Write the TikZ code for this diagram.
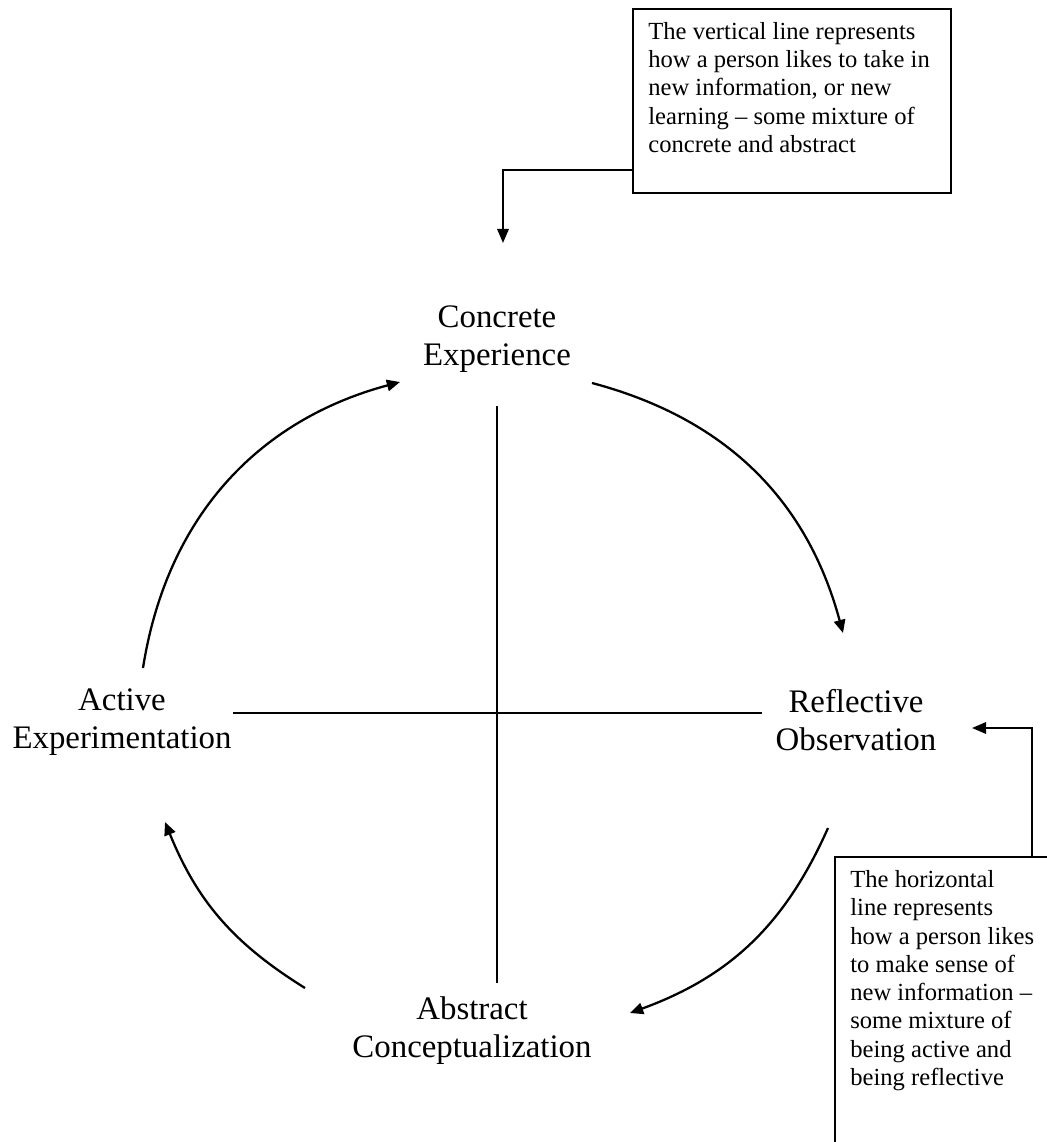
\documentclass[tikz,border=0pt]{standalone}
\usepackage{fontspec}
\setmainfont{Liberation Serif}
\usetikzlibrary{arrows.meta, positioning, calc}

\begin{document}
\begin{tikzpicture}[x=0.02cm, y=-0.02cm,
        stage/.style={align=center, inner sep=0pt, font=\fontsize{18.7pt}{21.6pt}\selectfont},
        notebox/.style={draw, line width=1.2pt, anchor=north west, inner sep=0pt},
        notetext/.style={align=left, anchor=north west, inner sep=0pt, font=\fontsize{14pt}{16.1pt}\selectfont},
        cyclearrow/.style={line width=1.3pt, -{Triangle[length=7.5pt, width=6.5pt]}},
        axisline/.style={line width=1.3pt},
        pointer/.style={line width=1.2pt, -{Triangle[length=8pt, width=6.5pt]}}]
            \fill[white] (0,0) rectangle (1047,1142);
            \clip (0,0) rectangle (1047,1142);

            % Le quattro fasi
            \node[stage, anchor=base] (ce) at (497,365) {Concrete\\Experience};
            \node[stage, anchor=base] (ro) at (856,750) {Reflective\\Observation};
            \node[stage, anchor=base] (ac) at (472,1057) {Abstract\\Conceptualization};
            \node[stage, anchor=base] (ae) at (122,748) {Active\\Experimentation};

            % Assi
            \coordinate (vtop) at (497,406);
            \coordinate (vbot) at (497,983);
            \coordinate (hleft) at (233,713);
            \coordinate (hright) at (762,713);
            \draw[axisline] (vtop) -- (vbot);
            \draw[axisline] (hleft) -- (hright);

            % Ciclo
            \coordinate (ce-out) at (592,383);
            \coordinate (ro-in) at (843,633);
            \coordinate (ro-out) at (828,828);
            \coordinate (ac-in) at (630,1013);
            \coordinate (ac-out) at (305,988);
            \coordinate (ae-in) at (165,822);
            \coordinate (ae-out) at (143,668);
            \coordinate (ce-in) at (400,382);
            \draw[cyclearrow] (ce-out) to[bend left=30] (ro-in);
            \draw[cyclearrow] (ro-out) to[bend left=23] (ac-in);
            \draw[cyclearrow] (ac-out) to[bend left=18] (ae-in);
            \draw[cyclearrow] (ae-out) to[bend left=33] (ce-in);

            % Note
            \node[notebox, minimum width=6.36cm, minimum height=3.68cm] (vbox) at (632,8) {};
            \node[notetext] (vnote) at ([shift={(16,14)}]vbox.north west)
                {The vertical line represents\\how a person likes to take in\\new information, or new\\learning -- some mixture of\\concrete and abstract};
            \node[notebox, minimum width=4.8cm, minimum height=6.4cm] (hbox) at (834,856) {};
            \node[notetext] (hnote) at ([shift={(16,14)}]hbox.north west)
                {The horizontal\\line represents\\how a person likes\\to make sense of\\new information --\\some mixture of\\being active and\\being reflective};

            \coordinate (cetip) at (503,243);
            \coordinate (rotip) at (972,728);
            \draw[pointer] ([shift={(0,-24)}]vbox.south west) -| (cetip);
            \draw[pointer] ([shift={(198,0)}]hbox.north west) |- (rotip);
        \end{tikzpicture}
\end{document}
